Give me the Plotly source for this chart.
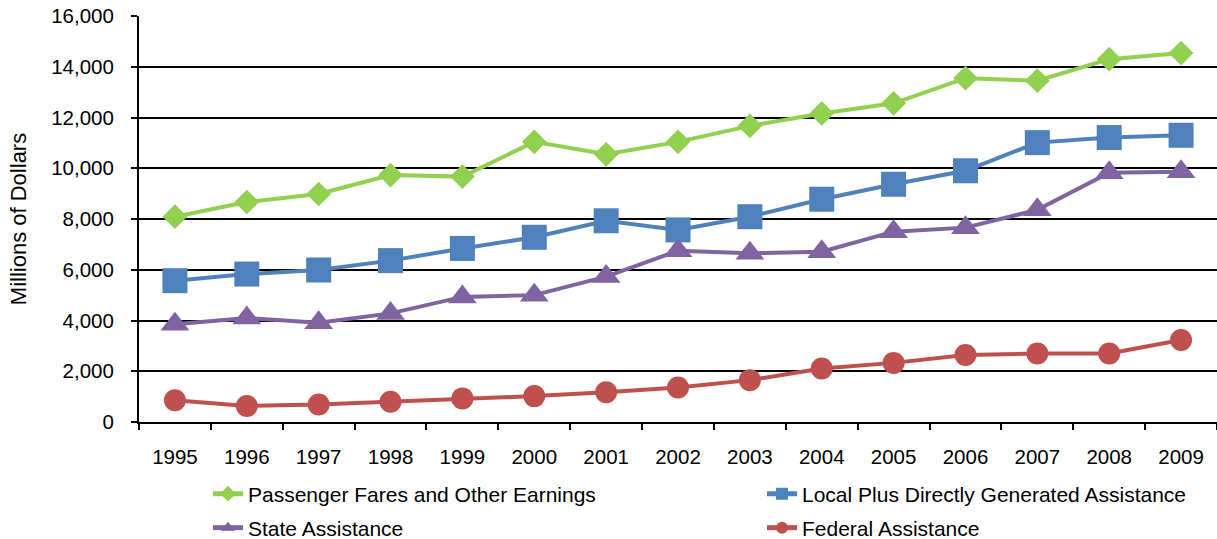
import plotly.graph_objects as go

years = ["1995", "1996", "1997", "1998", "1999", "2000", "2001", "2002",
         "2003", "2004", "2005", "2006", "2007", "2008", "2009"]

passenger_fares = [8090, 8670, 8985, 9730, 9670, 11040, 10550, 11040,
                   11670, 12160, 12560, 13550, 13450, 14300, 14540]
local_assist = [5570, 5830, 5990, 6360, 6840, 7280, 7930, 7570,
                8090, 8780, 9370, 9900, 11010, 11210, 11300]
state_assist = [3850, 4100, 3910, 4280, 4930, 5000, 5730, 6750,
                6650, 6710, 7500, 7660, 8360, 9820, 9860]
federal_assist = [860, 630, 690, 800, 930, 1020, 1170, 1360,
                  1650, 2110, 2330, 2640, 2700, 2700, 3230]

y_ticks = [0, 2000, 4000, 6000, 8000, 10000, 12000, 14000, 16000]
y_tick_text = ["0", "2,000", "4,000", "6,000", "8,000", "10,000", "12,000", "14,000", "16,000"]

FONT = "Liberation Sans, Arial, sans-serif"
W, H = 1217, 539

series = [
    ("Passenger Fares and Other Earnings", passenger_fares, "#92D050", "diamond", 19, "legend"),
    ("Local Plus Directly Generated Assistance", local_assist, "#4F81BD", "square", 25, "legend2"),
    ("State Assistance", state_assist, "#8064A2", "triangle-up", 25, "legend3"),
    ("Federal Assistance", federal_assist, "#C0504D", "circle", 22, "legend4"),
]

fig = go.Figure()
for name, vals, color, sym, size, leg in series:
    fig.add_trace(go.Scatter(
        x=years, y=vals, name=name, mode="lines+markers",
        line=dict(color=color, width=4),
        marker=dict(symbol=sym, size=size, color=color),
        legend=leg, showlegend=True,
    ))

def legend_at(px, py):
    return dict(
        orientation="h", xref="container", yref="container",
        x=px / W, y=1 - py / H, xanchor="left", yanchor="middle",
        font=dict(family=FONT, size=21, color="#000000"),
        itemsizing="constant", bgcolor="rgba(0,0,0,0)", visible=True,
    )

fig.update_layout(
    width=W, height=H, showlegend=True,
    margin=dict(l=139, r=0, t=16, b=117, autoexpand=False),
    plot_bgcolor="white", paper_bgcolor="white",
    font=dict(family=FONT, size=20.5, color="#000000"),
    legend=legend_at(208, 494),
    legend2=legend_at(762, 494),
    legend3=legend_at(208, 528),
    legend4=legend_at(762, 528),
    xaxis=dict(
        type="category", range=[-0.5, 14.5], automargin=False,
        showline=True, linecolor="#000000", linewidth=2,
        ticks="outside", tickson="boundaries", ticklen=6, tickwidth=1.5, tickcolor="#000000",
        showgrid=False, ticklabelstandoff=15,
        tickfont=dict(family=FONT, size=20.5, color="#000000"),
    ),
    yaxis=dict(
        range=[0, 16000], tickvals=y_ticks, ticktext=y_tick_text, automargin=False,
        showline=True, linecolor="#000000", linewidth=2,
        ticks="outside", ticklen=6, tickwidth=1.5, tickcolor="#000000",
        showgrid=True, gridcolor="#000000", gridwidth=1.5,
        zeroline=False, ticklabelstandoff=13,
        tickfont=dict(family=FONT, size=20.5, color="#000000"),
        title=dict(text="Millions of Dollars", standoff=18,
                   font=dict(family=FONT, size=22, color="#000000")),
    ),
)

fig.write_html("out.html", config={"displayModeBar": False},
               post_script="document.body.style.margin='0';document.body.style.overflow='hidden';")
